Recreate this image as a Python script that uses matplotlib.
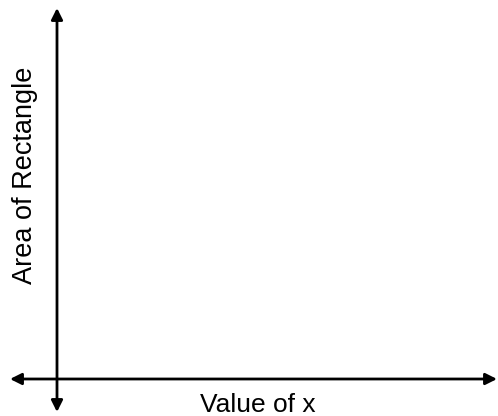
import matplotlib
matplotlib.use("Agg")
import matplotlib.pyplot as plt

# labels of the empty coordinate plane
x_label = "Value of x"
y_label = "Area of Rectangle"

plt.rcParams['font.family'] = ['Liberation Sans', 'DejaVu Sans']

fig = plt.figure(figsize=(4.98, 4.16), dpi=100)
ax = fig.add_axes([0, 0, 1, 1])
# work in pixel units of the picture
ax.set_xlim(0, 498)
ax.set_ylim(416, 0)
ax.axis('off')

arrow = dict(arrowstyle='<|-|>', color='black', lw=2.0, mutation_scale=17,
             shrinkA=0, shrinkB=0)

# horizontal axis
ax.annotate('', xy=(10, 379), xytext=(497, 379), arrowprops=arrow)
# vertical axis
ax.annotate('', xy=(57, 8), xytext=(57, 412), arrowprops=arrow)

ax.text(258, 412, x_label, fontsize=19, ha='center', va='baseline', clip_on=False)
ax.text(25, 175, y_label, fontsize=19.5, ha='center', va='center', rotation=90)

fig.savefig('out.png', dpi=100)
